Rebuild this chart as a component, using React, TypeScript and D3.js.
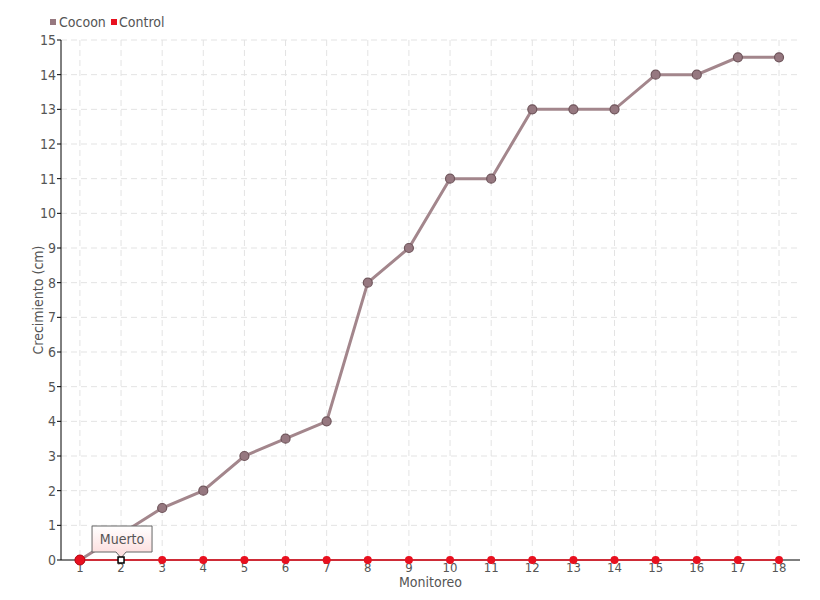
import React from "react";
import * as d3 from "d3";

const categories = ["1","2","3","4","5","6","7","8","9","10","11","12","13","14","15","16","17","18"];
const cocoonValues = [0, 0.75, 1.5, 2, 3, 3.5, 4, 8, 9, 11, 11, 13, 13, 13, 14, 14, 14.5, 14.5];
const controlValues = [0, 0, 0, 0, 0, 0, 0, 0, 0, 0, 0, 0, 0, 0, 0, 0, 0, 0];
const yTicks = [0,1,2,3,4,5,6,7,8,9,10,11,12,13,14,15];
const seriesNames = ["Cocoon", "Control"];
const tooltipText = "Muerto";
const tooltipIndex = 1;

const FONT = "'DejaVu Sans Condensed', 'DejaVu Sans', sans-serif";
const COCOON = "#a3868c";
const COCOON_FILL = "#967880";
const COCOON_STROKE = "#6f555b";
const CONTROL = "#e8101f";
const TEXT = "#555";

export default function App() {
  const W = 820, H = 600;
  const left = 61, right = 800, top = 40, bottom = 560;
  const x = d3.scaleLinear().domain([0.54, 18.51]).range([left, right]);
  const y = d3.scaleLinear().domain([0, 15]).range([bottom, top]);
  const xi = (i: number) => x(i + 1);

  const lineGen = d3.line<number>().x((_, i) => xi(i)).y(d => y(d));
  const cocoonPath = lineGen(cocoonValues) || "";
  const controlPath = lineGen(controlValues) || "";

  const tx = xi(tooltipIndex), ty = y(controlValues[tooltipIndex]);
  const bw = 60, bh = 26;
  const bx = tx - 29, by = ty - 34;
  const tipPath = `M${bx},${by} H${bx + bw} V${by + bh} H${tx + 5} L${tx},${by + bh + 6} L${tx - 5},${by + bh} H${bx} Z`;

  const T = (props: any) => <text fontSize={14} fill={TEXT} fontStretch="condensed" {...props} />;

  return (
    <svg width={W} height={H} style={{ position: "absolute", left: 0, top: 0 }} fontFamily={FONT}>
      <defs>
        <linearGradient id="tipGrad" x1="0" y1="0" x2="0" y2="1">
          <stop offset="0%" stopColor="#ffffff" />
          <stop offset="100%" stopColor="#fcd9d9" />
        </linearGradient>
      </defs>
      <rect x={0} y={0} width={W} height={H} fill="#fff" />
      {yTicks.filter(t => t > 0).map(t => (
        <line key={"hg" + t} x1={left} x2={right} y1={y(t)} y2={y(t)} stroke="#e3e3e3" strokeDasharray="6,4" strokeWidth={1} />
      ))}
      {categories.map((c, i) => (
        <line key={"vg" + c} x1={xi(i)} x2={xi(i)} y1={top} y2={bottom} stroke="#e3e3e3" strokeDasharray="6,4" strokeWidth={1} />
      ))}
      <line x1={left} x2={left} y1={top} y2={bottom} stroke="#000" strokeWidth={1} />
      <line x1={left} x2={right} y1={bottom} y2={bottom} stroke="#000" strokeWidth={1} />
      {yTicks.map(t => (
        <g key={"yt" + t}>
          <line x1={left - 4} x2={left} y1={y(t)} y2={y(t)} stroke="#000" />
          <T x={left - 5} y={y(t)} dy="0.35em" textAnchor="end">{t}</T>
        </g>
      ))}
      {categories.map((c, i) => (
        <g key={"xt" + c}>
          <line x1={xi(i)} x2={xi(i)} y1={bottom} y2={bottom + 4} stroke="#000" />
          <T x={xi(i)} y={bottom + 12} fontSize={13} textAnchor="middle">{c}</T>
        </g>
      ))}
      <T transform={`translate(43,${(top + bottom) / 2}) rotate(-90)`} textAnchor="middle">Crecimiento (cm)</T>
      <T x={(left + right) / 2} y={587} textAnchor="middle">Monitoreo</T>
      <path d={cocoonPath} fill="none" stroke={COCOON} strokeWidth={3} />
      {cocoonValues.map((v, i) => (
        <circle key={"cc" + i} cx={xi(i)} cy={y(v)} r={4.5} fill={COCOON_FILL} stroke={COCOON_STROKE} strokeWidth={1.2} />
      ))}
      <path d={controlPath} fill="none" stroke={CONTROL} strokeWidth={1.5} />
      {controlValues.map((v, i) => (
        i === tooltipIndex ? null :
        <circle key={"ct" + i} cx={xi(i)} cy={y(v)} r={i === 0 ? 5 : 4} fill={CONTROL} stroke={i === 0 ? "#b80a15" : "none"} strokeWidth={1} />
      ))}
      <path d={tipPath} fill="url(#tipGrad)" stroke="#666" strokeWidth={1} />
      <T x={bx + bw / 2} y={by + bh / 2} dy="0.35em" textAnchor="middle">{tooltipText}</T>
      <rect x={tx - 3} y={ty - 3} width={6} height={6} fill="#fff" stroke="#000" strokeWidth={1.5} />
      <rect x={50} y={19} width={6} height={6} fill={COCOON_FILL} />
      <T x={59} y={22} dy="0.35em">{seriesNames[0]}</T>
      <rect x={111} y={19} width={6} height={6} fill={CONTROL} />
      <T x={119} y={22} dy="0.35em">{seriesNames[1]}</T>
    </svg>
  );
}
